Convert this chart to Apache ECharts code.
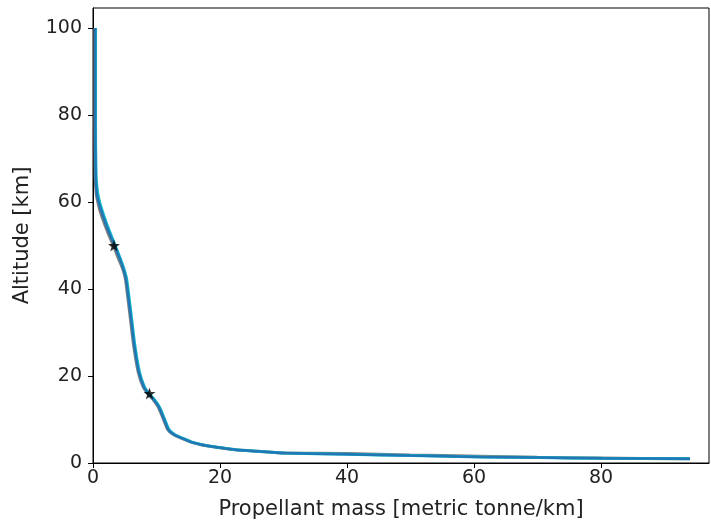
<!DOCTYPE html>
<html><head><meta charset="utf-8">
<script src="https://cdn.jsdelivr.net/npm/echarts@6/dist/echarts.min.js"></script>
<style>html,body{margin:0;padding:0;background:#fff}#c{width:711px;height:525px}</style>
</head><body><div id="c"></div>
<script>
const altitude = [100,80,66,62,60,58,55,52,50,47,44.5,42.3,37.8,33,27,21,17.5,15.8,14.5,12.8,10,7.6,6.5,5.7,4.8,4.2,3.6,3.05,2.7,2.3,2.0,1.7,1.4,1.25,1.1,1.0];
const massGray = [0.3,0.3,0.35,0.5,0.75,1.1,1.8,2.6,3.2,4.0,4.7,5.1,5.5,5.9,6.4,7.1,7.9,8.7,9.5,10.3,11.1,11.8,12.7,13.9,15.4,17.0,19.4,22.3,25.9,30.1,39.9,49.9,60.9,69.9,79.9,94];
const massCyan = [0.4,0.4,0.5,0.75,1.05,1.45,2.15,2.95,3.5,4.3,4.9,5.3,5.7,6.1,6.6,7.3,8.1,8.9,9.7,10.5,11.3,12.0,12.9,14.1,15.6,17.2,19.6,22.5,26.1,30.3,40.1,50.1,61.1,70.1,80.1,94];
const massBlue = [0.35,0.35,0.42,0.6,0.9,1.3,2.0,2.8,3.4,4.2,4.8,5.2,5.6,6.0,6.5,7.2,8.0,8.8,9.6,10.4,11.2,11.9,12.8,14,15.5,17.1,19.5,22.4,26,30.2,40,50,61,70,80,94];
const altGrayTail = [2.2,1.85,1.55,1.3,1.15,0.95];
const starMass = [3.3, 8.9];
const starAlt = [50, 16];
const xTicks = [0,20,40,60,80];
const yTicks = [0,20,40,60,80,100];

function pts(m, a){ return m.map((v,i)=>[v,a[i]]); }
const grayAlt = altitude.slice(0, altitude.length-6).concat(altGrayTail);
const star = 'path://M0,-10 L2.35,-3.24 L9.51,-3.09 L3.8,1.24 L5.88,8.09 L0,4 L-5.88,8.09 L-3.8,1.24 L-9.51,-3.09 L-2.35,-3.24 Z';
const font = 'DejaVu Sans';
const chart = echarts.init(document.getElementById('c'), null, {renderer:'canvas'});
chart.setOption({
  animation:false,
  grid:{left:93,right:2,top:8,bottom:60,show:true,borderColor:'#000',borderWidth:1},
  xAxis:{type:'value',min:0,max:97,interval:20,
    name:'Propellant mass [metric tonne/km]',nameLocation:'middle',nameGap:36,
    nameTextStyle:{fontFamily:font,fontSize:21,color:'#222'},
    axisLine:{show:true,onZero:false,lineStyle:{color:'#000'}},
    axisTick:{show:true,length:5,lineStyle:{color:'#000'}},
    axisLabel:{fontFamily:font,fontSize:19,color:'#222',margin:6,showMaxLabel:false},
    splitLine:{show:false}},
  yAxis:{type:'value',min:0,max:104.6,interval:20,
    name:'Altitude [km]',nameLocation:'middle',nameGap:60,nameRotate:90,
    nameTextStyle:{fontFamily:font,fontSize:21,color:'#222'},
    axisLine:{show:true,onZero:false,lineStyle:{color:'#000'}},
    axisTick:{show:true,length:5,lineStyle:{color:'#000'}},
    axisLabel:{fontFamily:font,fontSize:19,color:'#222',margin:11,showMaxLabel:false},
    splitLine:{show:false}},
  series:[
    {type:'line',data:pts(massGray,grayAlt),showSymbol:false,smooth:0.2,lineStyle:{color:'#7f7f7f',width:3},z:2},
    {type:'line',data:pts(massCyan,altitude),showSymbol:false,smooth:0.2,lineStyle:{color:'#17becf',width:3},z:3},
    {type:'line',data:pts(massBlue,altitude),showSymbol:false,smooth:0.2,lineStyle:{color:'#1f77b4',width:2.5},z:4},
    {type:'scatter',data:pts(starMass,starAlt),symbol:star,symbolSize:12,itemStyle:{color:'#000'},z:5}
  ]
});
</script></body></html>
